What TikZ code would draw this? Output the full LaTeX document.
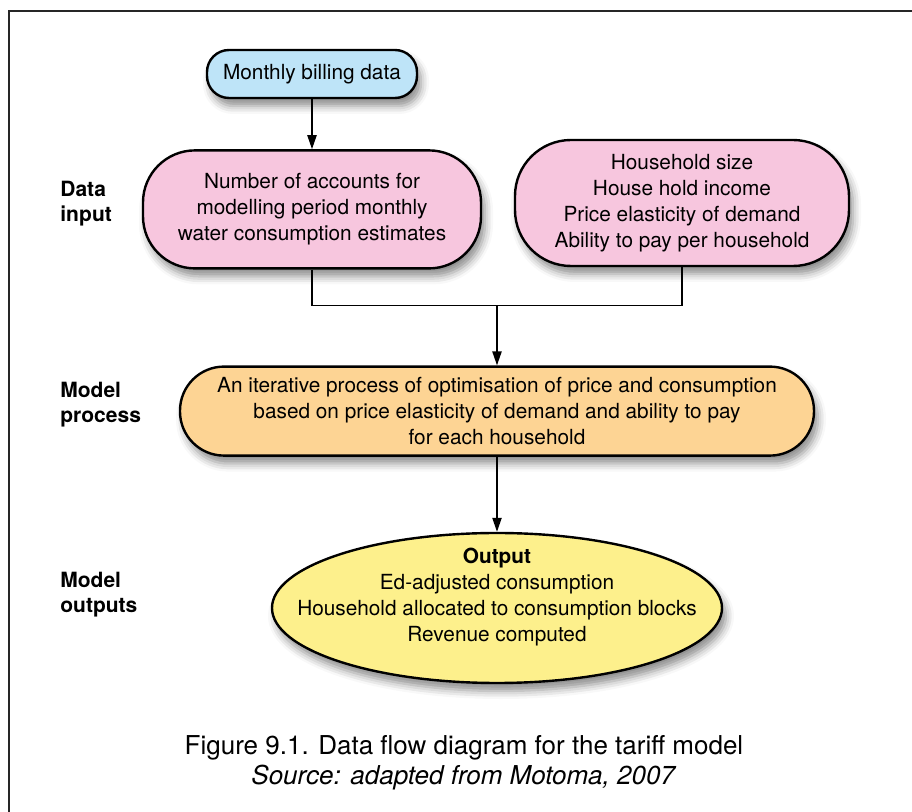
\documentclass[tikz,border=0pt]{standalone}
\usepackage{fontspec}
\setmainfont{TeX Gyre Heros}
\usepackage{tikz}
\usetikzlibrary{arrows.meta,positioning,shapes.geometric,calc,shadows.blur}

\definecolor{billblue}{RGB}{190,228,248}
\definecolor{inpink}{RGB}{247,198,222}
\definecolor{procorange}{RGB}{253,212,148}
\definecolor{outyellow}{RGB}{253,240,140}

\begin{document}
\begin{tikzpicture}[
    x=0.5pt, y=-0.5pt,
    >={Triangle[length=7pt,width=4.6pt]},
    node distance=25pt,
    pill/.style={draw, line width=1.2pt, align=center, inner sep=0pt,
                 font=\fontsize{10.4}{13}\selectfont,
                 blur shadow={shadow xshift=2pt, shadow yshift=-4pt,
                              shadow blur radius=4pt, shadow opacity=45}},
    stage/.style={font=\fontsize{10.5}{12.5}\selectfont\bfseries,
                  align=left, anchor=west, inner sep=0pt},
    flow/.style={->, line width=0.8pt}
]
    \useasboundingbox (0,0) rectangle (912,812);
    \draw[line width=1pt, black!85] (912,11) -- (9,11) -- (9,812);

    \node[pill, fill=billblue, rounded corners=11pt,
          minimum width=105pt, minimum height=24pt]
        (bill) at (312,74) {Monthly billing data};
    \node[pill, fill=inpink, rounded corners=26pt,
          minimum width=169pt, minimum height=59pt, below=25pt of bill]
        (acct) {Number of accounts for\\modelling period monthly\\water consumption estimates};
    \node[pill, fill=inpink, rounded corners=28pt,
          minimum width=167pt, minimum height=63pt]
        (hh) at (682,203) {Household size\\House hold income\\Price elasticity of demand\\Ability to pay per household};

    % Inputs merge into the model
    \coordinate (join) at ($(acct.south)!0.5!(hh.south) + (0,37)$);
    \node[pill, fill=procorange, rounded corners=22pt,
          minimum width=317pt, minimum height=44.5pt, below=30pt of join]
        (iter) {An iterative process of optimisation of price and consumption\\based on price elasticity of demand and ability to pay\\for each household};
    \node[pill, ellipse, fill=outyellow,
          minimum width=225pt, minimum height=75pt, below=37.5pt of iter]
        (out) {};
    \node[align=center, font=\fontsize{10.4}{13}\selectfont]
        (outtxt) at ([yshift=5.5pt]out.center)
        {\textbf{Output}\\Ed-adjusted consumption\\Household allocated to consumption blocks\\Revenue computed};

    \draw[flow] (bill.south) -- (bill.south |- acct.north);
    \draw[line width=0.8pt] (acct.south) |- (join) -| (hh.south);
    \draw[flow] (join) -- (iter.north);
    \draw[flow] (iter.south) -- (out.north);

    % Stage labels
    \node[stage] (datain) at (60,204) {Data\\input};
    \node[stage] (modproc) at (60,405) {Model\\process};
    \node[stage] (modout) at (60,595) {Model\\outputs};

    \node[align=center, font=\fontsize{13}{15}\selectfont]
        (cap) at (464,763) {Figure 9.1. Data flow diagram for the tariff model\\\textit{Source: adapted from Motoma, 2007}};
\end{tikzpicture}
\end{document}
